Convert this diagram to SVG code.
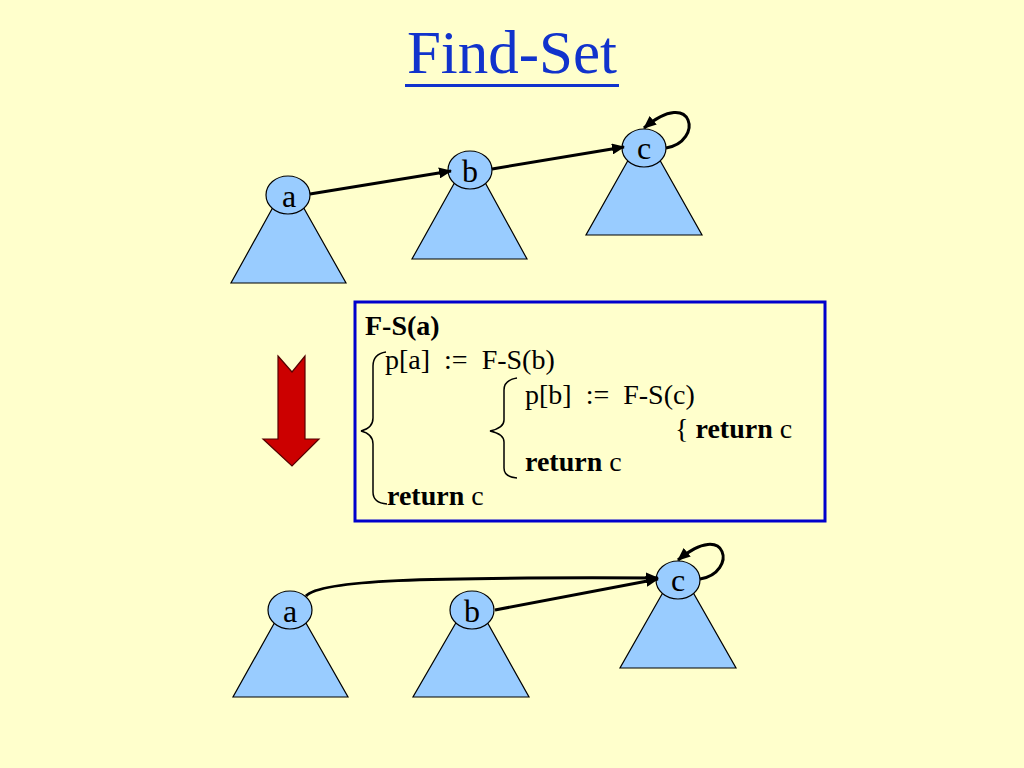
<svg xmlns="http://www.w3.org/2000/svg" width="1024" height="768" viewBox="0 0 1024 768">
<defs>
<style>
.bg{fill:#FFFFCC}
.tri{fill:#99CCFF;stroke:#000;stroke-width:1.2}
.nd{fill:#99CCFF;stroke:#000;stroke-width:1.2}
.lbl{font-family:"Liberation Serif","Times New Roman",serif;font-size:32px;fill:#000;text-anchor:middle}
.edge{fill:none;stroke:#000;stroke-width:3;marker-end:url(#ah)}
.code{font-family:"Liberation Serif","Times New Roman",serif;font-size:28px;fill:#000}
.b{font-weight:bold}
.brace{fill:none;stroke:#000;stroke-width:1.5}
</style>
<marker id="ah" markerUnits="userSpaceOnUse" markerWidth="13" markerHeight="11" refX="12" refY="5.5" orient="auto">
<path d="M0,0 L13,5.5 L0,11 Z" fill="#000"/>
</marker>
</defs>
<rect class="bg" x="0" y="0" width="1024" height="768"/>

<g id="title">
<text x="512" y="73" font-family="Liberation Serif, Times New Roman, serif" font-size="61" fill="#1133CC" text-anchor="middle">Find-Set</text>
<rect x="405" y="84" width="214" height="3" fill="#1133CC"/>
</g>

<g id="top-a">
<polygon class="tri" points="288,180 231,283 346,283"/>
<ellipse class="nd" cx="288" cy="195" rx="22" ry="19"/>
<text class="lbl" x="289" y="207">a</text>
</g>
<g id="top-b">
<polygon class="tri" points="470,155 412,259 527,259"/>
<ellipse class="nd" cx="470" cy="170" rx="22" ry="19"/>
<text class="lbl" x="470" y="182">b</text>
</g>
<g id="top-c">
<polygon class="tri" points="644,132 586,235 702,235"/>
<ellipse class="nd" cx="644" cy="148" rx="22" ry="19"/>
<text class="lbl" x="644" y="159">c</text>
</g>

<g id="arrow-down">
<polygon points="278,356 292,372 305,356 305,439 319,439 292,466 263,439 278,439" fill="#CC0000" stroke="#550000" stroke-width="1.2"/>
</g>

<g id="code-box">
<rect x="355" y="302" width="470" height="219" fill="none" stroke="#0000CC" stroke-width="3"/>
<text class="code b" x="365" y="335">F-S(a)</text>
<text class="code" x="385" y="369" xml:space="preserve">p[a]  :=  F-S(b)</text>
<text class="code" x="525" y="404" xml:space="preserve">p[b]  :=  F-S(c)</text>
<text class="code" x="675" y="438" xml:space="preserve">{ <tspan class="b">return</tspan> c</text>
<text class="code" x="525" y="471" xml:space="preserve"><tspan class="b">return</tspan> c</text>
<text class="code" x="387" y="505" xml:space="preserve"><tspan class="b">return</tspan> c</text>
<path class="brace" d="M386,352 Q373,354 373,366 L373,418 Q373,428 361,431 Q373,434 373,444 L373,492 Q373,503 387,504"/>
<path class="brace" d="M517,378 Q504,380 504,390 L504,420 Q504,428 490,431 Q504,434 504,442 L504,468 Q504,477 517,478"/>
</g>

<g id="bot-a">
<polygon class="tri" points="290,595 233,697 348,697"/>
<ellipse class="nd" cx="290" cy="610" rx="22" ry="19"/>
<text class="lbl" x="290" y="622">a</text>
</g>
<g id="bot-b">
<polygon class="tri" points="472,595 413,697 529,697"/>
<ellipse class="nd" cx="472" cy="610" rx="22" ry="19"/>
<text class="lbl" x="472" y="622">b</text>
</g>
<g id="bot-c">
<polygon class="tri" points="678,566 620,668 736,668"/>
<ellipse class="nd" cx="678" cy="580" rx="22" ry="19"/>
<text class="lbl" x="678" y="591">c</text>
</g>

<g id="connectors">
<path class="edge" d="M310,194 L451,171"/>
<path class="edge" d="M492,169 L624,147"/>
<path class="edge" d="M666,148 C704,142 694,86 644,128"/>
<path class="edge" d="M306,596 C320,580 420,577 658,578"/>
<path class="edge" d="M495,610 L658,579"/>
<path class="edge" d="M700,579 C738,573 728,518 678,560"/>
</g>
</svg>
